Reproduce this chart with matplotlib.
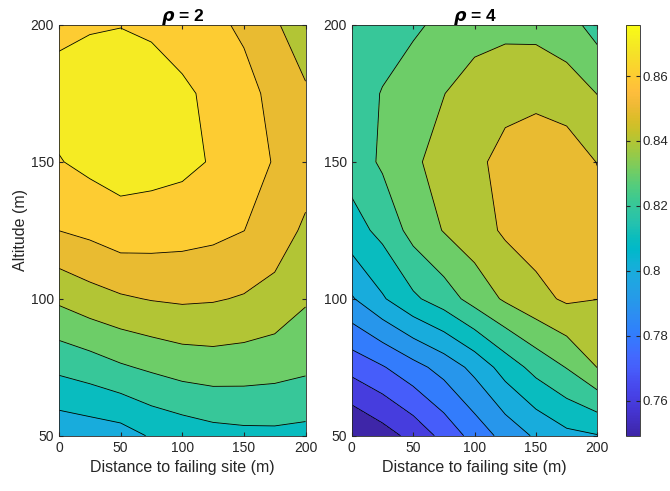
import numpy as np
import matplotlib
matplotlib.use('Agg')
import matplotlib.pyplot as plt
from matplotlib.colors import LinearSegmentedColormap, Normalize
import matplotlib.cm as cm

plt.rcParams['font.family'] = ['Liberation Sans', 'DejaVu Sans']

# grid (distance along x, altitude along y)
dist = [0, 25, 50, 75, 100, 125, 150, 175, 200]
alt = [50, 75, 100, 125, 150, 175, 200]

# rows = altitude 50..200, cols = distance 0..200
p_rho2 = [
    [0.8027, 0.8042, 0.8057, 0.8110, 0.8138, 0.8163, 0.8174, 0.8177, 0.8169],
    [0.8223, 0.8250, 0.8288, 0.8316, 0.8342, 0.8353, 0.8348, 0.8338, 0.8319],
    [0.8419, 0.8460, 0.8488, 0.8505, 0.8514, 0.8508, 0.8492, 0.8465, 0.8411],
    [0.8601, 0.8623, 0.8655, 0.8648, 0.8638, 0.8625, 0.8601, 0.8555, 0.8482],
    [0.8695, 0.8725, 0.8745, 0.8738, 0.8725, 0.8692, 0.8635, 0.8595, 0.8550],
    [0.8740, 0.8755, 0.8765, 0.8760, 0.8720, 0.8675, 0.8630, 0.8575, 0.8512],
    [0.8675, 0.8691, 0.8697, 0.8680, 0.8650, 0.8620, 0.8585, 0.8512, 0.8445],
]
p_rho4 = [
    [0.7490, 0.7556, 0.7631, 0.7731, 0.7838, 0.7935, 0.8015, 0.8075, 0.8095],
    [0.7734, 0.7792, 0.7865, 0.7938, 0.8029, 0.8143, 0.8234, 0.8304, 0.8402],
    [0.7990, 0.8089, 0.8182, 0.8250, 0.8339, 0.8414, 0.8470, 0.8515, 0.8501],
    [0.8158, 0.8228, 0.8335, 0.8405, 0.8455, 0.8515, 0.8545, 0.8570, 0.8545],
    [0.8245, 0.8315, 0.8385, 0.8435, 0.8475, 0.8535, 0.8560, 0.8555, 0.8497],
    [0.8250, 0.8305, 0.8365, 0.8398, 0.8445, 0.8465, 0.8475, 0.8450, 0.8398],
    [0.8235, 0.8255, 0.8280, 0.8330, 0.8360, 0.8375, 0.8370, 0.8340, 0.8260],
]
levels_rho2 = [0.80, 0.81, 0.82, 0.83, 0.84, 0.85, 0.86, 0.87]
levels_rho4 = [0.749, 0.76, 0.77, 0.78, 0.79, 0.80, 0.81, 0.82, 0.83, 0.84, 0.85]
clim = (0.7493, 0.8757)
cbar_ticks = [0.76, 0.78, 0.80, 0.82, 0.84, 0.86]
cbar_labels = ['0.76', '0.78', '0.8', '0.82', '0.84', '0.86']

# matlab parula
parula_rgb = [
    (0.2422, 0.1504, 0.6603), (0.2578, 0.1818, 0.7511), (0.2706, 0.2147, 0.8364),
    (0.2783, 0.2559, 0.8991), (0.2813, 0.3006, 0.9414), (0.2760, 0.3667, 0.9829),
    (0.2602, 0.4123, 0.9952), (0.2206, 0.4603, 0.9973), (0.1834, 0.5074, 0.9798),
    (0.1764, 0.5499, 0.9520), (0.1540, 0.5902, 0.9218), (0.1380, 0.6276, 0.8973),
    (0.1113, 0.6635, 0.8763), (0.0689, 0.6948, 0.8394), (0.0036, 0.7203, 0.7917),
    (0.0433, 0.7411, 0.7394), (0.1408, 0.7584, 0.6842), (0.1938, 0.7758, 0.6251),
    (0.2470, 0.7918, 0.5567), (0.3406, 0.8008, 0.4789), (0.4456, 0.8024, 0.3909),
    (0.5616, 0.7942, 0.3045), (0.6720, 0.7793, 0.2227), (0.7738, 0.7598, 0.1646),
    (0.8634, 0.7406, 0.1596), (0.9393, 0.7288, 0.2100), (0.9956, 0.7434, 0.2371),
    (0.9952, 0.7893, 0.2028), (0.9786, 0.8386, 0.1766), (0.9610, 0.8890, 0.1537),
    (0.9628, 0.9373, 0.1265), (0.9769, 0.9839, 0.0805),
]
parula = LinearSegmentedColormap.from_list('parula', parula_rgb, N=256)
norm = Normalize(vmin=clim[0], vmax=clim[1])

ink = (0.15, 0.15, 0.15)
fig = plt.figure(figsize=(6.7, 4.91), dpi=100)
ax1 = fig.add_axes([0.088, 0.1126, 0.368, 0.8365])
ax2 = fig.add_axes([0.525, 0.1126, 0.3666, 0.8365])
cax = fig.add_axes([0.934, 0.1126, 0.0209, 0.8365])

X, Y = np.meshgrid(dist, alt)

def draw(ax, Z, lv, title):
    Z = np.array(Z)
    fill_lv = list(lv) + [0.90]
    cols = [parula(norm(max(v, clim[0]))) for v in lv]
    ax.contourf(X, Y, Z, levels=fill_lv, colors=cols)
    ax.contour(X, Y, Z, levels=lv[1:], colors='k', linewidths=0.6)
    ax.set_xlim(0, 200)
    ax.set_ylim(50, 200)
    ax.set_xticks([0, 50, 100, 150, 200])
    ax.set_yticks([50, 100, 150, 200])
    ax.tick_params(direction='in', length=3, top=True, right=True,
                   labelsize=10, colors=ink, labelcolor=ink)
    for s in ax.spines.values():
        s.set_color(ink)
        s.set_linewidth(0.6)
    ax.set_xlabel('Distance to failing site (m)', fontsize=11.5, color=ink)
    ax.set_title(title, fontsize=12.5, fontweight='bold', pad=3)

draw(ax1, p_rho2, levels_rho2, r'$\mathbfit{\rho}$ = 2')
draw(ax2, p_rho4, levels_rho4, r'$\mathbfit{\rho}$ = 4')
ax1.set_ylabel('Altitude (m)', fontsize=11.5, color=ink, labelpad=2)

sm = cm.ScalarMappable(norm=norm, cmap=parula)
cb = fig.colorbar(sm, cax=cax)
cb.set_ticks(cbar_ticks)
cb.set_ticklabels(cbar_labels)
cb.ax.tick_params(direction='in', length=3, left=True, right=True, pad=2,
                  labelsize=9.5, colors=ink, labelcolor=ink)
cb.outline.set_edgecolor(ink)
cb.outline.set_linewidth(0.6)

fig.savefig('out.png', dpi=100)
